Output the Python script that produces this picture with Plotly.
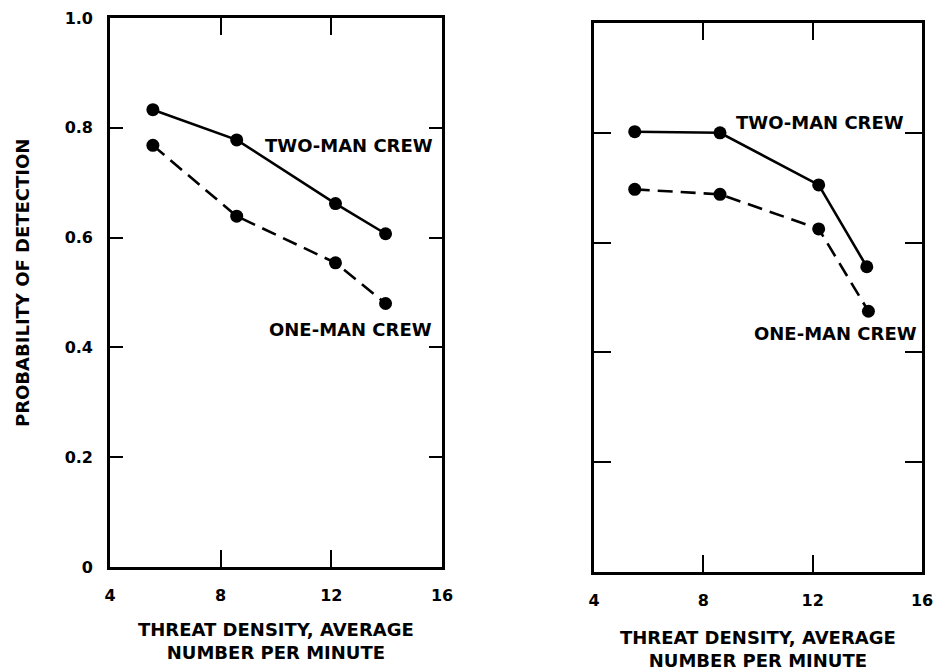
import plotly.graph_objects as go

# Data
left_x_two = [5.55, 8.58, 12.15, 13.96]
left_y_two = [0.833, 0.778, 0.662, 0.607]
left_x_one = [5.55, 8.58, 12.15, 13.96]
left_y_one = [0.768, 0.639, 0.554, 0.480]

right_x_two = [5.49, 8.61, 12.22, 13.98]
right_y_two = [0.802, 0.800, 0.705, 0.556]
right_x_one = [5.49, 8.61, 12.22, 14.04]
right_y_one = [0.697, 0.688, 0.625, 0.475]

x_tickvals = [4, 8, 12, 16]
x_ticktext = ["4", "8", "12", "16"]
y_tickvals = [0, 0.2, 0.4, 0.6, 0.8, 1.0]
y_ticktext = ["0", "0.2", "0.4", "0.6", "0.8", "1.0"]

x_title = "THREAT DENSITY, AVERAGE<br>NUMBER PER MINUTE"
y_title = "PROBABILITY OF DETECTION"

FONT = "DejaVu Sans, Liberation Sans, Arial, sans-serif"
W, H = 933, 671

fig = go.Figure()

def add_series(x, y, dash, xa, ya):
    fig.add_trace(go.Scatter(
        x=x, y=y, mode="lines+markers", xaxis=xa, yaxis=ya,
        line=dict(color="black", width=2.6, dash=dash),
        marker=dict(color="black", size=13),
        showlegend=False, hoverinfo="skip"))

add_series(left_x_two, left_y_two, "solid", "x", "y")
add_series(left_x_one, left_y_one, "15px,8px", "x", "y")
add_series(right_x_two, right_y_two, "solid", "x2", "y2")
add_series(right_x_one, right_y_one, "15px,8px", "x2", "y2")

tickfont = dict(family=FONT, size=16, color="black", weight="bold")
titlefont = dict(family=FONT, size=18, color="black", weight="bold")

common_x = dict(range=[4, 16], tickvals=x_tickvals, ticktext=x_ticktext,
                ticks="inside", ticklen=17, tickwidth=2, tickcolor="black",
                showline=True, linewidth=2.6, linecolor="black", mirror="ticks",
                showgrid=False, zeroline=False, tickfont=tickfont,
                ticklabelstandoff=12, ticklabeloverflow="allow", automargin=False)
common_y = dict(range=[0, 1.0], tickvals=y_tickvals, ticktext=y_ticktext,
                ticks="inside", tickwidth=2, tickcolor="black",
                showline=True, linewidth=2.6, linecolor="black", mirror="ticks",
                showgrid=False, zeroline=False, tickfont=tickfont,
                ticklabelstandoff=11, ticklabeloverflow="allow", automargin=False)

fig.update_layout(
    width=W, height=H,
    margin=dict(l=0, r=0, t=0, b=0, pad=0),
    paper_bgcolor="white", plot_bgcolor="white",
    xaxis=dict(domain=[110 / W, 442 / W], anchor="y", **common_x),
    yaxis=dict(domain=[1 - 567 / H, 1 - 18 / H], anchor="x", ticklen=13, **common_y),
    xaxis2=dict(domain=[594 / W, 922 / W], anchor="y2", **common_x),
    yaxis2=dict(domain=[1 - 572 / H, 1 - 23 / H], anchor="x2", ticklen=17,
                showticklabels=False, **common_y),
)

# axis titles
fig.add_annotation(x=0.5, y=1 - 641 / H, xref="x domain", yref="paper", text=x_title,
                   showarrow=False, xanchor="center", yanchor="middle",
                   font=titlefont)
fig.add_annotation(x=0.5, y=1 - 649 / H, xref="x2 domain", yref="paper", text=x_title,
                   showarrow=False, xanchor="center", yanchor="middle",
                   font=titlefont)
fig.add_annotation(x=22 / W, y=1 - 283 / H, xref="paper", yref="paper", text=y_title,
                   showarrow=False, xanchor="center", yanchor="middle", textangle=-90,
                   font=titlefont)

ann_font = dict(family=FONT, size=18, color="black", weight="bold")
fig.add_annotation(x=15.75, y=0.767, xref="x", yref="y", text="TWO-MAN CREW",
                   showarrow=False, xanchor="right", yanchor="middle", font=ann_font)
fig.add_annotation(x=15.72, y=0.433, xref="x", yref="y", text="ONE-MAN CREW",
                   showarrow=False, xanchor="right", yanchor="middle", font=ann_font)
fig.add_annotation(x=15.42, y=0.818, xref="x2", yref="y2", text="TWO-MAN CREW",
                   showarrow=False, xanchor="right", yanchor="middle", font=ann_font)
fig.add_annotation(x=15.9, y=0.435, xref="x2", yref="y2", text="ONE-MAN CREW",
                   showarrow=False, xanchor="right", yanchor="middle", font=ann_font)

fig.write_html("out.html", config={"displayModeBar": False},
               post_script="document.body.style.margin='0';document.body.style.overflow='hidden';")
